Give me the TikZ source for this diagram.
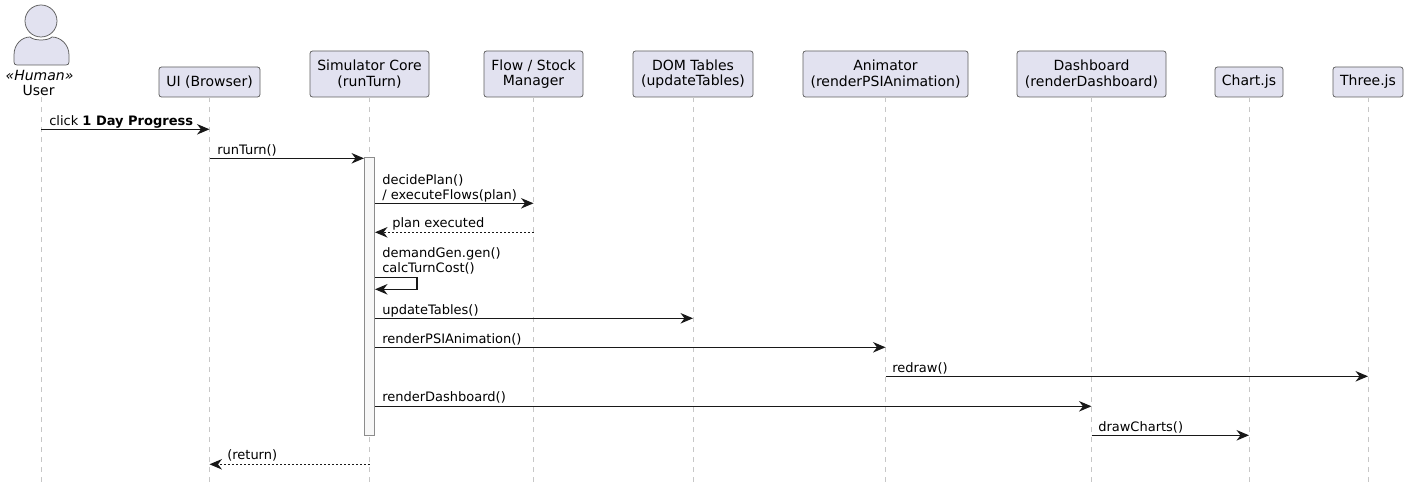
\documentclass[tikz,border=0pt]{standalone}
\usepackage{fontspec}
\setmainfont{DejaVu Sans}
\usepackage{xcolor}
\usepackage{tikz}
\usetikzlibrary{arrows.meta}
\definecolor{boxfill}{HTML}{E2E2F0}
\definecolor{ink}{HTML}{181818}
\newcommand{\px}{0.75pt}
\newcommand{\boxfont}{\fontsize{10.5}{11.6}\selectfont}
\tikzset{
  participant/.style={draw=ink!70, line width=0.75*\px, fill=boxfill, rounded corners=2.5*\px,
    align=center, inner sep=0pt, text=black, font=\boxfont},
  lifeline/.style={draw=black!22, line width=\px, dash pattern=on 5*\px off 5*\px},
  activation/.style={draw=black!45, line width=\px, fill=black!3, inner sep=0pt,
    minimum width=10*\px},
  msg/.style={draw=ink, line width=1.15*\px, -{Stealth[length=12.5*\px, width=10.5*\px, inset=4*\px]}},
  reply/.style={msg, dash pattern=on 2*\px off 2*\px},
  msglabel/.style={anchor=base west, inner sep=0pt, align=left, text=black}
}
\begin{document}
\begin{tikzpicture}[x=0.75pt, y=-0.75pt, font=\fontsize{9.75}{11.6}\selectfont]
    \useasboundingbox (0, 0) rectangle (1408, 488);

    % rows of the messages
    \coordinate (top) at (0, 97);
    \coordinate (bottom) at (0, 483);
    \coordinate (row1) at (0, 129.3);
    \coordinate (row2) at (0, 158.3);
    \coordinate (row3) at (0, 203.3);
    \coordinate (row4) at (0, 232.3);
    \coordinate (row5) at (0, 277.3);
    \coordinate (row5b) at (0, 289.3);
    \coordinate (row6) at (0, 318.3);
    \coordinate (row7) at (0, 347.3);
    \coordinate (row8) at (0, 376.3);
    \coordinate (row9) at (0, 406.3);
    \coordinate (row10) at (0, 435.3);
    \coordinate (row11) at (0, 464.3);

    % the human
    \node (user) [circle, draw=ink!70, line width=0.75*\px, fill=boxfill, inner sep=0pt,
      minimum size=32*\px] at (41, 21) {};
    \filldraw [draw=ink!70, line width=0.75*\px, fill=boxfill]
      (17, 65) .. controls (15, 65) and (14, 64) .. (14, 62)
      -- (14, 55) .. controls (14, 44) and (22, 37) .. (30, 37)
      .. controls (34, 41) and (48, 41) .. (52, 37)
      .. controls (60, 37) and (69, 44) .. (69, 55)
      -- (69, 62) .. controls (69, 64) and (68, 65) .. (66, 65) -- cycle;
    \node (userstereo) [inner sep=0pt, font=\boxfont] at (39.5, 75) {\itshape «Human»};
    \node (username) [inner sep=0pt, font=\boxfont] at (38.6, 90) {User};

    \node (ui) [participant, minimum width=101*\px, minimum height=30*\px] at (209.5, 82)
      {UI (Browser)};
    \node (core) [participant, minimum width=119*\px, minimum height=46*\px] at (369.5, 74)
      {Simulator Core\\(runTurn)};
    \node (flow) [participant, minimum width=99*\px, minimum height=46*\px] at (533.5, 74)
      {Flow / Stock\\Manager};
    \node (tables) [participant, minimum width=120*\px, minimum height=46*\px] at (693, 74)
      {DOM Tables\\(updateTables)};
    \node (animator) [participant, minimum width=165*\px, minimum height=46*\px] at (885.5, 74)
      {Animator\\(renderPSIAnimation)};
    \node (dashboard) [participant, minimum width=149*\px, minimum height=46*\px] at (1091.5, 74)
      {Dashboard\\(renderDashboard)};
    \node (chart) [participant, minimum width=68*\px, minimum height=30*\px] at (1249, 82)
      {Chart.js};
    \node (three) [participant, minimum width=70*\px, minimum height=30*\px] at (1368, 82)
      {Three.js};

    \draw [lifeline] (user |- top) -- (user |- bottom);
    \draw [lifeline] (ui |- top) -- (ui |- bottom);
    \draw [lifeline] (core |- top) -- (core |- bottom);
    \draw [lifeline] (flow |- top) -- (flow |- bottom);
    \draw [lifeline] (tables |- top) -- (tables |- bottom);
    \draw [lifeline] (animator |- top) -- (animator |- bottom);
    \draw [lifeline] (dashboard |- top) -- (dashboard |- bottom);
    \draw [lifeline] (chart |- top) -- (chart |- bottom);
    \draw [lifeline] (three |- top) -- (three |- bottom);

    \node (active) [activation, minimum height=277*\px] at (369.5, 296.5) {};

    \draw [msg] (user |- row1) -- (ui |- row1);
    \node (clicktext) [msglabel] at (49, 125.7) {click \textbf{1 Day Progress}};

    \draw [msg] (ui |- row2) -- (active.north west |- row2);
    \node (runtext) [msglabel] at (217, 154.7) {runTurn()};

    \draw [msg] (active.east |- row3) -- (flow |- row3);
    \node (plantext) [msglabel] at (382, 199.7) {decidePlan()\\/ executeFlows(plan)};

    \draw [reply] (flow |- row4) -- (active.east |- row4);
    \node (executedtext) [msglabel] at (392, 227.7) {plan executed};

    \draw [msg] (active.east |- row5) -- ++(42, 0) -- ++(0, 12) -- (active.east |- row5b);
    \node (demandtext) [msglabel] at (382, 272.7) {demandGen.gen()\\calcTurnCost()};

    \draw [msg] (active.east |- row6) -- (tables |- row6);
    \node (tablestext) [msglabel] at (382, 314.7) {updateTables()};

    \draw [msg] (active.east |- row7) -- (animator |- row7);
    \node (psitext) [msglabel] at (382, 343.7) {renderPSIAnimation()};

    \draw [msg] (animator |- row8) -- (three |- row8);
    \node (redrawtext) [msglabel] at (892, 372.7) {redraw()};

    \draw [msg] (active.east |- row9) -- (dashboard |- row9);
    \node (dashtext) [msglabel] at (382, 401.7) {renderDashboard()};

    \draw [msg] (dashboard |- row10) -- (chart |- row10);
    \node (charttext) [msglabel] at (1098, 431.7) {drawCharts()};

    \draw [reply] (core |- row11) -- (ui |- row11);
    \node (returntext) [msglabel] at (227, 459.7) {(return)};
\end{tikzpicture}
\end{document}
